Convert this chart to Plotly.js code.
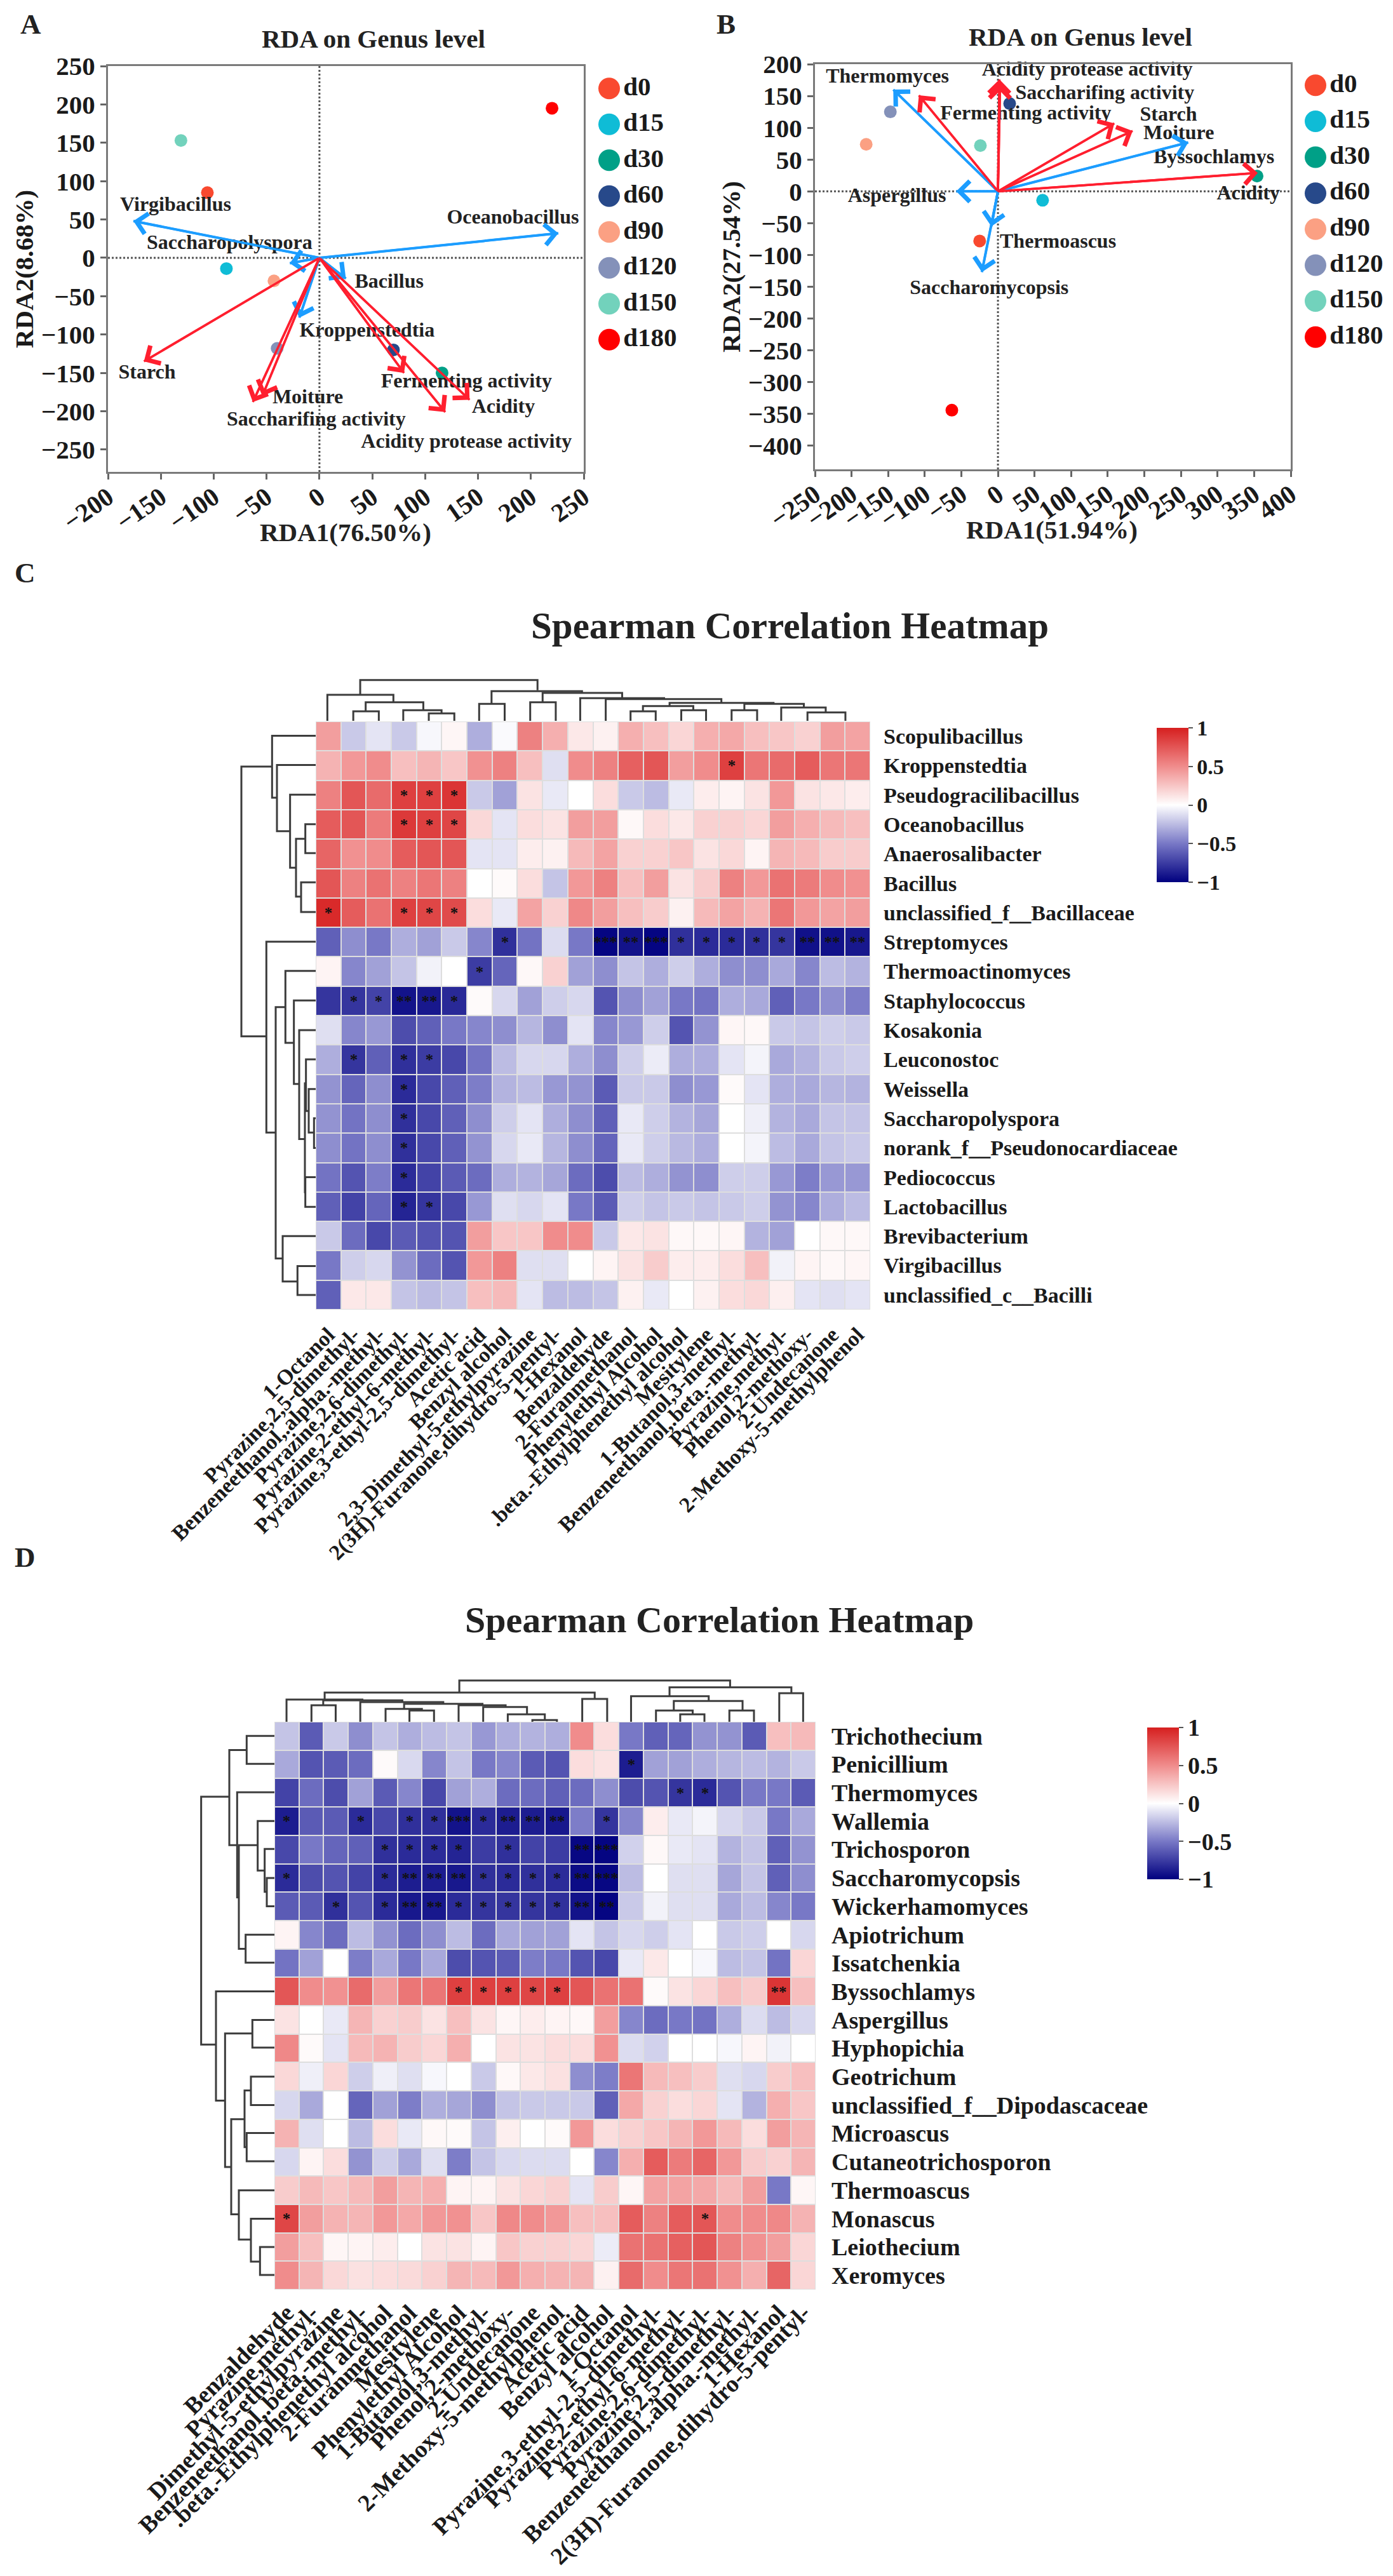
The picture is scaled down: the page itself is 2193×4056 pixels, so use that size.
<!DOCTYPE html>
<html><head><meta charset="utf-8">
<script src="https://cdn.plot.ly/plotly-3.0.0.min.js"></script>
<style>html,body{margin:0;padding:0;background:#fff}#p{width:2193px;height:4056px}</style>
</head><body><div id="p"></div>
<script>
const groups=['d0','d15','d30','d60','d90','d120','d150','d180'];
const groupColors=['#F9492F','#0FBCD6','#00A087','#27498A','#FBA083','#8491B9','#72D2BC','#FF0000'];
const scoresAx=[-106,-88,116,70,-43,-40,-131,220];
const scoresAy=[85,-14,-150,-120,-30,-118,153,195];
const scoresBx=[-25,61,354,16,-180,-147,-24,-63];
const scoresBy=[-78,-14,24,138,74,125,72,-344];

const vecAnames=['Oceanobacillus','Virgibacillus','Saccharopolyspora','Bacillus','Kroppenstedtia','Starch','Moiture','Saccharifing activity','Fermenting activity','Acidity','Acidity protease activity'];
const vecAx=[226,-176,-28,25,-19,-166,-54,-63,80,142,119];
const vecAy=[32,48,-7,-27,-78,-135,-180,-188,-150,-185,-201];
const vecAkind=['g','g','g','g','g','e','e','e','e','e','e'];
const labAx=[183,-136,-85,66,45,-163,-11,-3,139,174,139];
const labAy=[51,68,18,-32,-96,-151,-183,-212,-162,-195,-241];

const vecBnames=['Thermomyces','Byssochlamys','Aspergillus','Thermoascus','Saccharomycopsis','Acidity protease activity','Saccharifing activity','Fermenting activity','Starch','Moiture','Acidity'];
const vecBx=[-143,260,-57,-9,-22,2,3,-108,159,184,355];
const vecBy=[160,77,0,-55,-127,176,168,151,107,95,29];
const vecBkind=['g','g','g','g','g','e','e','e','e','e','e'];
const labBx=[-151,295,-138,82,-12,122,146,38,233,247,342];
const labBy=[179,52,-9,-81,-153,190,153,121,119,90,-5];

const rowsC=['Scopulibacillus','Kroppenstedtia','Pseudogracilibacillus','Oceanobacillus','Anaerosalibacter','Bacillus','unclassified_f__Bacillaceae','Streptomyces','Thermoactinomyces','Staphylococcus','Kosakonia','Leuconostoc','Weissella','Saccharopolyspora','norank_f__Pseudonocardiaceae','Pediococcus','Lactobacillus','Brevibacterium','Virgibacillus','unclassified_c__Bacilli'];
const colsC=['1-Octanol','Pyrazine,2,5-dimethyl-','Benzeneethanol,.alpha.-methyl-','Pyrazine,2,6-dimethyl-','Pyrazine,2-ethyl-6-methyl-','Pyrazine,3-ethyl-2,5-dimethyl-','Acetic acid','Benzyl alcohol','2,3-Dimethyl-5-ethylpyrazine','2(3H)-Furanone,dihydro-5-pentyl-','1-Hexanol','Benzaldehyde','2-Furanmethanol','Phenylethyl Alcohol','.beta.-Ethylphenethyl alcohol','Mesitylene','1-Butanol,3-methyl-','Benzeneethanol,.beta.-methyl-','Pyrazine,methyl-','Phenol,2-methoxy-','2-Undecanone','2-Methoxy-5-methylphenol'];
const valuesC=[
[0.42,-0.2,-0.1,-0.2,-0.03,0.04,-0.3,-0.02,0.55,0.35,0.1,0.06,0.35,0.28,0.18,0.35,0.38,0.28,0.25,0.2,0.42,0.4],
[0.33,0.45,0.5,0.28,0.32,0.25,0.48,0.55,0.28,-0.12,0.5,0.55,0.7,0.75,0.42,0.5,0.85,0.6,0.65,0.72,0.6,0.6],
[0.55,0.75,0.65,0.85,0.85,0.9,-0.2,-0.35,0.12,-0.08,0,0.15,-0.2,-0.25,-0.08,0.08,0.05,0.12,0.45,0.12,0.1,0.08],
[0.72,0.75,0.58,0.88,0.85,0.82,0.17,-0.1,0.15,0.12,0.42,0.42,0.03,0.15,0.1,0.2,0.2,0.18,0.42,0.35,0.3,0.28],
[0.68,0.48,0.5,0.72,0.75,0.75,-0.1,-0.1,0.08,0.06,0.3,0.4,0.2,0.2,0.25,0.12,0.17,0.05,0.32,0.3,0.22,0.22],
[0.75,0.55,0.62,0.55,0.6,0.55,0,0.02,0.15,-0.22,0.45,0.55,0.28,0.42,0.12,0.22,0.55,0.45,0.62,0.58,0.5,0.48],
[0.95,0.72,0.62,0.85,0.82,0.8,0.15,-0.08,0.4,0.2,0.52,0.42,0.28,0.22,0.06,0.3,0.4,0.33,0.6,0.45,0.4,0.42],
[-0.6,-0.42,-0.5,-0.3,-0.35,-0.2,-0.45,-0.8,-0.52,-0.13,-0.5,-0.98,-0.92,-0.98,-0.8,-0.82,-0.82,-0.8,-0.78,-0.93,-0.93,-0.9],
[0.05,-0.45,-0.35,-0.22,-0.05,0,-0.75,-0.58,0.03,0.2,-0.35,-0.42,-0.22,-0.3,-0.18,-0.3,-0.42,-0.42,-0.32,-0.45,-0.25,-0.28],
[-0.78,-0.78,-0.72,-0.92,-0.9,-0.83,0.02,-0.15,-0.35,-0.18,-0.15,-0.65,-0.42,-0.35,-0.5,-0.52,-0.3,-0.32,-0.6,-0.5,-0.42,-0.48],
[-0.12,-0.45,-0.38,-0.68,-0.6,-0.5,-0.45,-0.42,-0.27,-0.42,-0.1,-0.45,-0.38,-0.18,-0.65,-0.4,0.04,0.03,-0.2,-0.22,-0.18,-0.2],
[-0.3,-0.78,-0.6,-0.8,-0.75,-0.7,-0.52,-0.25,-0.15,-0.15,-0.3,-0.42,-0.18,-0.07,-0.3,-0.3,-0.1,-0.04,-0.32,-0.28,-0.2,-0.18],
[-0.4,-0.58,-0.42,-0.82,-0.7,-0.6,-0.48,-0.28,-0.25,-0.38,-0.4,-0.62,-0.2,-0.2,-0.42,-0.38,0.02,-0.1,-0.3,-0.32,-0.27,-0.28],
[-0.4,-0.52,-0.42,-0.8,-0.7,-0.6,-0.42,-0.18,-0.1,-0.3,-0.42,-0.6,-0.08,-0.18,-0.28,-0.33,0,-0.06,-0.28,-0.32,-0.22,-0.22],
[-0.42,-0.52,-0.42,-0.8,-0.7,-0.6,-0.4,-0.15,-0.08,-0.27,-0.42,-0.58,-0.08,-0.18,-0.26,-0.3,0,-0.04,-0.25,-0.32,-0.22,-0.2],
[-0.52,-0.65,-0.48,-0.82,-0.72,-0.62,-0.55,-0.3,-0.28,-0.33,-0.55,-0.68,-0.25,-0.3,-0.4,-0.42,-0.18,-0.18,-0.38,-0.48,-0.38,-0.38],
[-0.6,-0.72,-0.58,-0.85,-0.78,-0.7,-0.38,-0.12,-0.15,-0.1,-0.5,-0.62,-0.18,-0.22,-0.2,-0.22,-0.2,-0.18,-0.4,-0.45,-0.3,-0.25],
[-0.2,-0.55,-0.7,-0.62,-0.65,-0.65,0.42,0.25,0.25,0.5,0.5,-0.2,0.1,0.12,0.03,0.03,0.04,-0.28,-0.35,0,0.03,0.03],
[-0.5,-0.18,-0.15,-0.4,-0.55,-0.65,0.45,0.55,-0.12,-0.12,0,0.05,0.12,0.22,0.08,0.08,0.15,0.28,-0.05,0.05,0.03,0.04],
[-0.6,0.1,0.1,-0.22,-0.25,-0.22,0.28,0.3,-0.1,-0.25,-0.25,-0.22,0.06,-0.08,0,0.06,0.15,0.17,0.07,-0.1,-0.12,-0.1]];
const starsC=[[1,16,1],[2,3,1],[2,4,1],[2,5,1],[3,3,1],[3,4,1],[3,5,1],[6,0,1],[6,3,1],[6,4,1],[6,5,1],[7,7,1],[7,11,3],[7,12,2],[7,13,3],[7,14,1],[7,15,1],[7,16,1],[7,17,1],[7,18,1],[7,19,2],[7,20,2],[7,21,2],[8,6,1],[9,1,1],[9,2,1],[9,3,2],[9,4,2],[9,5,1],[11,1,1],[11,3,1],[11,4,1],[12,3,1],[13,3,1],[14,3,1],[15,3,1],[16,3,1],[16,4,1]];

const rowsD=['Trichothecium','Penicillium','Thermomyces','Wallemia','Trichosporon','Saccharomycopsis','Wickerhamomyces','Apiotrichum','Issatchenkia','Byssochlamys','Aspergillus','Hyphopichia','Geotrichum','unclassified_f__Dipodascaceae','Microascus','Cutaneotrichosporon','Thermoascus','Monascus','Leiothecium','Xeromyces'];
const colsD=['Benzaldehyde','Pyrazine,methyl-','Dimethyl-5-ethylpyrazine','Benzeneethanol,.beta.-methyl-','.beta.-Ethylphenethyl alcohol','2-Furanmethanol','Mesitylene','Phenylethyl Alcohol','1-Butanol,3-methyl-','Phenol,2-methoxy-','2-Undecanone','2-Methoxy-5-methylphenol','Acetic acid','Benzyl alcohol','1-Octanol','Pyrazine,3-ethyl-2,5-dimethyl-','Pyrazine,2-ethyl-6-methyl-','Pyrazine,2,6-dimethyl-','Pyrazine,2,5-dimethyl-','Benzeneethanol,.alpha.-methyl-','1-Hexanol','2(3H)-Furanone,dihydro-5-pentyl-'];
const valuesD=[
[-0.22,-0.62,-0.2,-0.42,-0.22,-0.3,-0.25,-0.22,-0.38,-0.3,-0.28,-0.3,0.5,0.15,-0.5,-0.6,-0.58,-0.4,-0.4,-0.62,0.28,0.3],
[-0.32,-0.65,-0.62,-0.55,0.02,-0.14,-0.45,-0.22,-0.5,-0.45,-0.62,-0.65,0.15,0.12,-0.88,-0.35,-0.35,-0.3,-0.27,-0.25,-0.28,-0.2],
[-0.72,-0.55,-0.68,-0.35,-0.62,-0.45,-0.7,-0.35,-0.3,-0.55,-0.55,-0.6,-0.55,-0.42,-0.68,-0.65,-0.78,-0.82,-0.65,-0.5,-0.5,-0.62],
[-0.88,-0.62,-0.62,-0.82,-0.7,-0.8,-0.8,-0.92,-0.82,-0.88,-0.88,-0.9,-0.48,-0.78,-0.45,0.08,-0.08,-0.04,-0.15,-0.2,-0.5,-0.32],
[-0.7,-0.5,-0.58,-0.6,-0.8,-0.82,-0.82,-0.85,-0.75,-0.8,-0.72,-0.75,-0.97,-0.98,-0.17,0.03,-0.08,-0.1,-0.28,-0.22,-0.6,-0.4],
[-0.82,-0.68,-0.65,-0.72,-0.82,-0.88,-0.88,-0.9,-0.8,-0.82,-0.8,-0.82,-0.95,-0.97,-0.25,0,-0.12,-0.12,-0.33,-0.22,-0.6,-0.42],
[-0.62,-0.62,-0.8,-0.65,-0.82,-0.9,-0.9,-0.82,-0.78,-0.78,-0.78,-0.8,-0.92,-0.98,-0.2,-0.05,-0.12,-0.12,-0.32,-0.25,-0.45,-0.5],
[0.05,-0.45,-0.55,-0.25,-0.4,-0.55,-0.42,-0.25,-0.55,-0.32,-0.35,-0.35,-0.1,-0.22,-0.15,-0.18,-0.1,0,-0.2,-0.18,0,-0.15],
[-0.52,-0.35,0,-0.48,-0.32,-0.5,-0.32,-0.68,-0.65,-0.62,-0.48,-0.5,-0.65,-0.7,-0.08,0.1,0,-0.03,-0.25,-0.22,-0.52,0.18],
[0.75,0.5,0.48,0.65,0.42,0.6,0.6,0.85,0.85,0.85,0.82,0.85,0.75,0.62,0.62,0.02,0.12,0.18,0.28,0.22,0.9,0.28],
[0.12,0,-0.08,0.32,0.2,0.22,0.12,0.28,0.12,0.04,0.08,0.05,0.03,0.42,-0.45,-0.55,-0.5,-0.52,-0.3,-0.13,-0.25,-0.15],
[0.52,0.02,-0.1,0.3,0.33,0.22,0.18,0.35,0,0.12,0.12,0.15,0.15,0.48,-0.13,-0.17,0,0,-0.03,0.05,-0.05,0],
[0.17,-0.06,0.18,-0.18,-0.06,-0.12,-0.03,0,-0.2,0.03,0.1,0.13,-0.42,-0.48,0.6,0.3,0.28,0.22,-0.12,-0.15,0.22,0.28],
[-0.15,-0.32,0,-0.58,-0.35,-0.48,-0.3,-0.33,-0.42,-0.22,-0.2,-0.2,-0.2,-0.6,0.38,0.2,0.15,0.18,-0.1,-0.28,0.35,0.25],
[0.33,-0.12,0,-0.25,0.15,-0.08,0.03,0.02,-0.22,0.07,0,0.02,0.45,0.15,0.2,0.25,0.32,0.45,0.3,0.15,0.42,0.32],
[-0.15,0.05,0.15,-0.4,-0.18,-0.32,-0.12,-0.48,-0.22,-0.14,-0.13,-0.13,0,-0.45,0.35,0.72,0.58,0.68,0.45,0.22,0.2,0.32],
[0.22,0.3,0.25,0.3,0.42,0.32,0.35,0.05,0.05,0.12,0.18,0.2,-0.1,0.22,0.04,0.4,0.4,0.38,0.3,0.42,-0.5,0.04],
[0.82,0.42,0.33,0.32,0.45,0.38,0.45,0.48,0.25,0.52,0.5,0.45,0.28,0.28,0.72,0.55,0.72,0.75,0.5,0.5,0.52,0.33],
[0.42,0.28,0.04,0.05,0.08,0,0.12,0.12,0.05,0.25,0.2,0.2,0.18,-0.07,0.62,0.62,0.7,0.75,0.55,0.48,0.42,0.18],
[0.5,0.32,0.17,0.13,0.15,0.16,0.2,0.32,0.3,0.45,0.35,0.33,0.32,0.06,0.65,0.5,0.6,0.62,0.48,0.35,0.68,0.18]];
const starsD=[[1,14,1],[2,16,1],[2,17,1],[3,0,1],[3,3,1],[3,5,1],[3,6,1],[3,7,3],[3,8,1],[3,9,2],[3,10,2],[3,11,2],[3,13,1],[4,4,1],[4,5,1],[4,6,1],[4,7,1],[4,9,1],[4,12,2],[4,13,3],[5,0,1],[5,4,1],[5,5,2],[5,6,2],[5,7,2],[5,8,1],[5,9,1],[5,10,1],[5,11,1],[5,12,2],[5,13,3],[6,2,1],[6,4,1],[6,5,2],[6,6,2],[6,7,1],[6,8,1],[6,9,1],[6,10,1],[6,11,1],[6,12,2],[6,13,2],[9,7,1],[9,8,1],[9,9,1],[9,10,1],[9,11,1],[9,20,2],[17,0,1],[17,17,1]];

// dendrogram merges: [branch a, branch b, merge level, level of a, level of b]
const treeTopC=[[152,638,92,162,140],[62,243,162,285,197],[167,325,197,240,235],[133,203,240,285,285],[270,375,235,285,250],[340,410,250,285,285],[512,760,145,205,153],[478,548,205,285,285],[652,870,153,197,178],[618,688,197,285,285],[755,985,178,285,182],[825,1142,182,285,200],[1000,1285,200,215,205],[927,1065,215,240,235],[893,962,240,285,285],[1032,1100,235,285,285],[1205,1368,205,235,222],[1170,1240,235,285,285],[1306,1428,222,285,245],[1378,1482,245,285,285]];
const treeLeftC=[[127,828,60,205,178],[47,208,205,411,228],[123,295,228,411,290],[200,390,290,411,318],[315,465,318,362,342],[277,352,362,411,411],[428,505,342,411,411],[582,1078,178,411,222],[752,1405,222,268,255],[658,845,268,411,308],[735,952,308,411,333],[812,1095,333,411,360],[950,1233,360,365,362],[888,1022,365,411,378],[965,1078,378,411,403],[1041,1118,403,411,411],[1194,1271,362,411,411],[1347,1465,255,411,325],[1425,1500,325,411,411]];
const treeTopD=[[540,1300,78,135,110],[162,920,135,168,165],[885,955,165,273,273],[55,268,168,273,172],[158,380,172,195,180],[125,193,195,273,273],[262,495,180,273,188],[385,605,188,212,195],[333,435,212,273,220],[400,469,220,273,273],[538,670,195,273,203],[607,730,203,273,238],[676,780,238,273,265],[745,814,265,273,273],[1130,1472,110,152,138],[1438,1505,138,273,273],[1022,1240,152,273,175],[1142,1335,175,220,220],[1092,1195,220,273,238],[1160,1228,238,273,273],[1298,1367,220,273,273]];
const treeLeftD=[[220,885,80,213,150],[95,350,213,295,250],[57,132,295,426,426],[208,490,250,426,258],[350,628,258,347,290],[285,418,347,426,380],[360,475,380,426,390],[438,514,390,426,426],[590,665,290,426,426],[742,1035,150,426,193],[855,1213,193,322,222],[819,893,322,426,426],[1085,1340,222,285,258],[1008,1160,285,315,295],[971,1047,315,426,426],[1122,1198,295,426,426],[1276,1408,258,426,315],[1352,1467,315,426,358],[1428,1503,358,426,426]];

const W=2193,H=4056;
const FF='"Liberation Serif","Times New Roman",serif';
const dx=(a,b)=>[a/W,b/W];
const dy=(top,bot)=>[1-bot/H,1-top/H];
const font=(s,c)=>({family:FF,size:s,color:c||'#1a1a1a',weight:700});
const scale=[[0,'#00007f'],[0.25,'#7878c6'],[0.5,'#ffffff'],[0.75,'#f08c8c'],[1,'#d61f1f']];
const traces=[];
const heads=[];

function biplot(xa,ya,sx,sy,names,vx,vy,kind,lx,ly){
  names.forEach((n,i)=>{
    const c=kind[i]==='g'?'#1c9dff':'#ff1f2f';
    const w=kind[i]==='g'?4:3.5;
    traces.push({type:'scatter',mode:'lines',xaxis:xa,yaxis:ya,name:n,showlegend:false,hoverinfo:'skip',
      x:[0,vx[i]],y:[0,vy[i]],line:{color:c,width:w},cliponaxis:false});
    heads.push({xref:xa,yref:ya,axref:xa,ayref:ya,x:vx[i],y:vy[i],ax:0,ay:0,text:'',showarrow:true,
      arrowhead:4,arrowsize:1.8,arrowwidth:3.5,arrowcolor:c,standoff:0});
  });
  traces.push({type:'scatter',mode:'markers',xaxis:xa,yaxis:ya,x:sx,y:sy,text:groups,showlegend:false,
    marker:{size:20,color:groupColors}});
  traces.push({type:'scatter',mode:'text',xaxis:xa,yaxis:ya,x:lx,y:ly,text:names,textposition:'middle center',
    textfont:font(32,'#222'),showlegend:false,cliponaxis:false});
}
biplot('x','y',scoresAx,scoresAy,vecAnames,vecAx,vecAy,vecAkind,labAx,labAy);
biplot('x2','y2',scoresBx,scoresBy,vecBnames,vecBx,vecBy,vecBkind,labBx,labBy);

function legendCol(xa,ya){
  traces.push({type:'scatter',mode:'markers+text',xaxis:xa,yaxis:ya,x:groups.map(()=>0),y:groups,text:groups,
    textposition:'middle right',textfont:font(41),marker:{size:34,color:groupColors},showlegend:false,cliponaxis:false});
}
legendCol('x3','y3'); legendCol('x4','y4');

function heat(xa,ya,cols,rows,vals,stars,cb,fs){
  const text=rows.map(()=>cols.map(()=>''));
  stars.forEach(s=>{text[s[0]][s[1]]='*'.repeat(s[2]);});
  traces.push({type:'heatmap',xaxis:xa,yaxis:ya,x:cols,y:rows,z:vals,zmin:-1,zmax:1,colorscale:scale,xgap:2,ygap:2,
    text:text,texttemplate:'%{text}',textfont:{family:FF,size:25,color:'#111',weight:700},
    colorbar:Object.assign({thickness:50,thicknessmode:'pixels',xanchor:'left',yanchor:'top',xpad:0,ypad:0,outlinewidth:0,
      tickmode:'array',tickvals:[-1,-0.5,0,0.5,1],ticktext:['−1','−0.5','0','0.5','1'],ticks:'outside',ticklen:7,tickwidth:2,tickcolor:'#555',tickfont:font(fs)},cb)});
}
heat('x5','y5',colsC,rowsC,valuesC,starsC,{x:1821/W,y:1-1146/H,len:(1389-1146)/H},34);
heat('x8','y8',colsD,rowsD,valuesD,starsD,{x:1806/W,y:1-2720/H,len:(2959-2720)/H},38);

function tree(xa,ya,merges,horizontal){
  const px=[],py=[];
  merges.forEach(m=>{
    const a=[m[0],m[0],m[1],m[1],null], b=[m[3],m[2],m[2],m[4],null];
    if(horizontal){px.push(...a);py.push(...b);}else{px.push(...b);py.push(...a);}
  });
  traces.push({type:'scatter',mode:'lines',xaxis:xa,yaxis:ya,x:px,y:py,line:{color:'#3c3c3c',width:3},showlegend:false,hoverinfo:'skip',connectgaps:false});
}
tree('x6','y6',treeTopC,true);
tree('x7','y7',treeLeftC,false);
tree('x9','y9',treeTopD,true);
tree('x10','y10',treeLeftD,false);

const seq=(a,b,s)=>{const r=[];for(let v=a;v<=b;v+=s)r.push(v);return r;};
function mainAxis(dom,range,ticks,title,standoff,extra){
  const ax=Object.assign({domain:dom,range:range,tickmode:'array',tickvals:ticks,showgrid:false,zeroline:false,
    showline:true,mirror:true,linecolor:'#7a7a7a',linewidth:3,ticks:'outside',ticklen:9,tickwidth:3,tickcolor:'#666',
    tickfont:font(41)},extra);
  if(title)ax.title={text:title,font:font(41),standoff:standoff};
  return ax;
}
const hidden=(dom,range,extra)=>Object.assign({domain:dom,range:range,visible:false,showgrid:false,zeroline:false},extra);
function heatX(dom,labels,anchor,fs,off){
  return {domain:dom,type:'category',anchor:anchor,tickmode:'array',tickvals:labels,ticktext:labels,tickangle:-45,ticks:'',ticklen:0,
    tickfont:font(fs),showline:false,showgrid:false,zeroline:false,ticklabelstandoff:off};
}
function heatY(dom,anchor,fs,off){
  return {domain:dom,type:'category',anchor:anchor,side:'right',autorange:'reversed',ticks:'',ticklen:0,dtick:1,
    tickfont:font(fs),showline:false,showgrid:false,zeroline:false,ticklabelstandoff:off};
}
const ann=(t,x,y,s)=>({text:t,xref:'paper',yref:'paper',x:x/W,y:1-y/H,xanchor:'center',yanchor:'middle',showarrow:false,font:font(s,'#222')});
const zero=(xr,yr)=>[
  {type:'line',xref:xr,yref:yr+' domain',x0:0,x1:0,y0:0,y1:1,line:{color:'#555',width:3,dash:'dot'},layer:'below'},
  {type:'line',xref:xr+' domain',yref:yr,x0:0,x1:1,y0:0,y1:0,line:{color:'#555',width:3,dash:'dot'},layer:'below'}];
const under=(xr,yr)=>({type:'rect',xref:xr+' domain',yref:yr+' domain',x0:0,x1:1,y0:0,y1:1,fillcolor:'#dedede',line:{width:0},layer:'below'});

const layout={width:W,height:H,margin:{l:0,r:0,t:0,b:0},paper_bgcolor:'#fff',plot_bgcolor:'rgba(0,0,0,0)',showlegend:false,
  font:{family:FF},
  xaxis:mainAxis(dx(170,919),[-200,250],seq(-200,250,50),null,0,{anchor:'y',tickangle:-35,ticklabelstandoff:-12}),
  yaxis:mainAxis(dy(104,743),[-279,250],seq(-250,250,50),'RDA2(8.68%)',0,{anchor:'x'}),
  xaxis2:mainAxis(dx(1283,2032),[-250,400],seq(-250,400,50),null,0,{anchor:'y2',tickangle:-35,ticklabelstandoff:-12}),
  yaxis2:mainAxis(dy(101,739),[-437,200],seq(-400,200,50),'RDA2(27.54%)',0,{anchor:'x2'}),
  xaxis3:hidden(dx(942,976),[-0.5,0.5],{anchor:'y3'}),
  yaxis3:hidden(dy(111,563),[7.5,-0.5],{anchor:'x3',type:'category'}),
  xaxis4:hidden(dx(2054,2088),[-0.5,0.5],{anchor:'y4'}),
  yaxis4:hidden(dy(106,559),[7.5,-0.5],{anchor:'x4',type:'category'}),
  xaxis5:heatX(dx(497,1370),colsC,'y5',34,12),
  yaxis5:heatY(dy(1136,2062),'x5',34,20),
  xaxis6:hidden(dx(497,1370),[30,1550],{anchor:'y6'}),
  yaxis6:hidden(dy(1040,1135),[285,0],{anchor:'x6'}),
  xaxis7:hidden(dx(360,497),[0,411],{anchor:'y7'}),
  yaxis7:hidden(dy(1136,2062),[1538,10],{anchor:'x7'}),
  xaxis8:heatX(dx(432,1284),colsD,'y8',38,6),
  yaxis8:heatY(dy(2711,3605),'x8',38,24),
  xaxis9:hidden(dx(432,1284),[21,1540],{anchor:'y9'}),
  yaxis9:hidden(dy(2620,2711),[273,0],{anchor:'x9'}),
  xaxis10:hidden(dx(290,432),[0,426],{anchor:'y10'}),
  yaxis10:hidden(dy(2711,3605),[1542,19],{anchor:'x10'}),
  shapes:[...zero('x','y'),...zero('x2','y2'),under('x5','y5'),under('x8','y8')],
  annotations:[
    ann('A',48,38,45),ann('B',1143,38,45),ann('C',39,902,45),ann('D',39,2452,45),
    ann('RDA on Genus level',588,61,41),ann('RDA on Genus level',1701,58,41),
    ann('RDA1(76.50%)',544,838,41),ann('RDA1(51.94%)',1656,834,41),
    ann('Spearman Correlation Heatmap',1243,985,59),ann('Spearman Correlation Heatmap',1132,2550,58),
    ...heads
  ]};
Plotly.newPlot('p',traces,layout,{displayModeBar:false,staticPlot:true});
</script></body></html>
